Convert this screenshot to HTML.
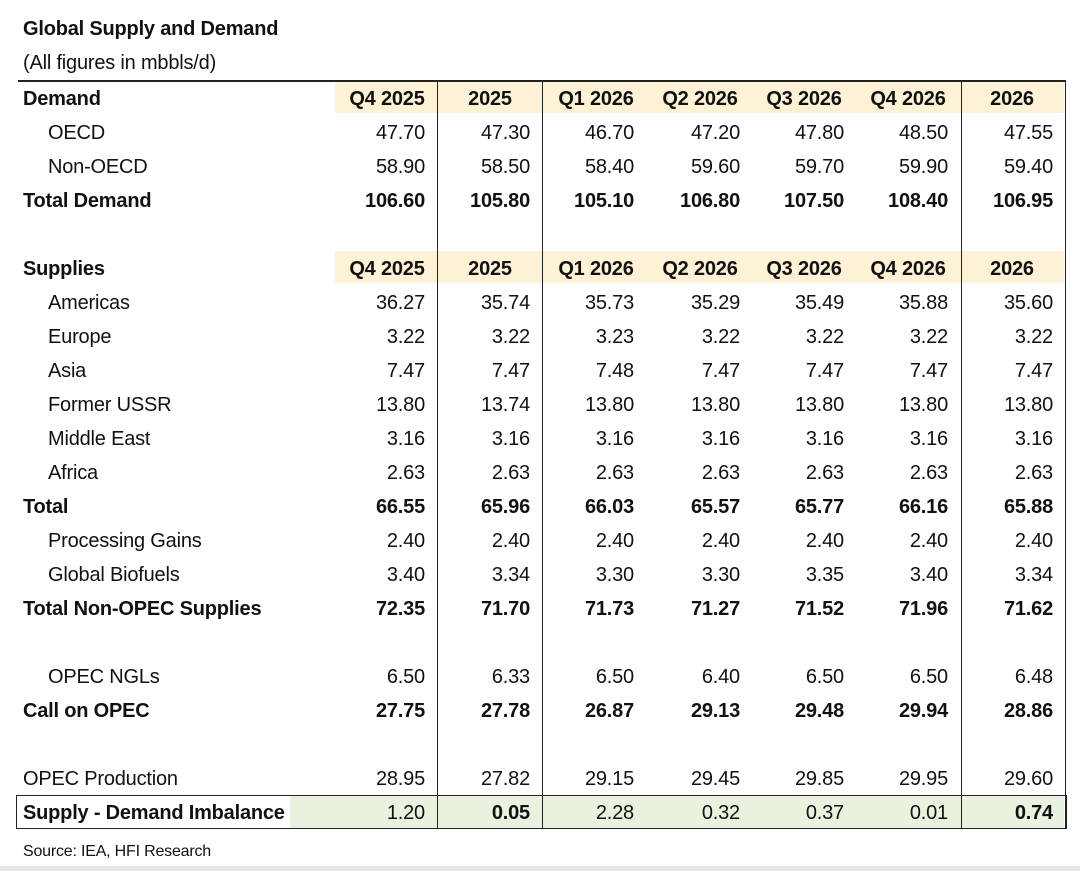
<!DOCTYPE html>
<html><head><meta charset="utf-8"><style>
body{margin:0;width:1080px;height:871px;background:#fff;position:relative;overflow:hidden;font-family:"Liberation Sans",sans-serif;color:#111}
.t{position:absolute;white-space:nowrap;font-size:20px;line-height:24px;letter-spacing:-0.2px}
.b{font-weight:bold}
.r{text-align:right}
.c{text-align:center}
.ln{position:absolute;background:#222}
.fill{position:absolute}
</style></head><body>
<div class="t b" style="left:23px;top:17px">Global Supply and Demand</div>
<div class="t" style="left:23px;top:51px">(All figures in mbbls/d)</div>
<div class="fill" style="left:335px;top:81px;width:729px;height:32px;background:#fdf2d6"></div>
<div class="fill" style="left:335px;top:251px;width:729px;height:32px;background:#fdf2d6"></div>
<div class="fill" style="left:290px;top:796px;width:774px;height:32px;background:#e8f2df"></div>
<div class="ln" style="left:18px;top:80px;width:1048px;height:2px"></div>
<div class="ln" style="left:437px;top:81px;width:1.2px;height:747px"></div>
<div class="ln" style="left:542px;top:81px;width:1.2px;height:747px"></div>
<div class="ln" style="left:961px;top:81px;width:1.2px;height:747px"></div>
<div class="ln" style="left:1065px;top:81px;width:1.2px;height:747px"></div>
<div style="position:absolute;left:16px;top:795px;width:1049px;height:32px;border:1.5px solid #222"></div>
<div class="t" style="left:23px;top:840px;font-size:16px">Source: IEA, HFI Research</div>
<div class="fill" style="left:0;top:866px;width:1080px;height:5px;background:#e6e6e6"></div>
<div id="rows"></div>
<script>
const headers=["Q4 2025","2025","Q1 2026","Q2 2026","Q3 2026","Q4 2026","2026"];
const rowLabels=["Demand","OECD","Non-OECD","Total Demand","","Supplies","Americas","Europe","Asia","Former USSR","Middle East","Africa","Total","Processing Gains","Global Biofuels","Total Non-OPEC Supplies","","OPEC NGLs","Call on OPEC","","OPEC Production","Supply - Demand Imbalance"];
const rowKinds=["h","i","i","b","x","h","i","i","i","i","i","i","b","i","i","b","x","i","b","x","n","s"];
const rowValues=[
null,
["47.70","47.30","46.70","47.20","47.80","48.50","47.55"],
["58.90","58.50","58.40","59.60","59.70","59.90","59.40"],
["106.60","105.80","105.10","106.80","107.50","108.40","106.95"],
null,null,
["36.27","35.74","35.73","35.29","35.49","35.88","35.60"],
["3.22","3.22","3.23","3.22","3.22","3.22","3.22"],
["7.47","7.47","7.48","7.47","7.47","7.47","7.47"],
["13.80","13.74","13.80","13.80","13.80","13.80","13.80"],
["3.16","3.16","3.16","3.16","3.16","3.16","3.16"],
["2.63","2.63","2.63","2.63","2.63","2.63","2.63"],
["66.55","65.96","66.03","65.57","65.77","66.16","65.88"],
["2.40","2.40","2.40","2.40","2.40","2.40","2.40"],
["3.40","3.34","3.30","3.30","3.35","3.40","3.34"],
["72.35","71.70","71.73","71.27","71.52","71.96","71.62"],
null,
["6.50","6.33","6.50","6.40","6.50","6.50","6.48"],
["27.75","27.78","26.87","29.13","29.48","29.94","28.86"],
null,
["28.95","27.82","29.15","29.45","29.85","29.95","29.60"],
["1.20","0.05","2.28","0.32","0.37","0.01","0.74"]];
const colRight=[425,530,634,740,844,948,1053];
const colCenter=[387,490,596,700,804,908,1012];
const wrap=document.getElementById('rows');
rowLabels.forEach((lab,i)=>{
  const y=87+i*34;
  const k=rowKinds[i];
  if(k==="x")return;
  const d=document.createElement('div');
  d.className='t'+((k==="h"||k==="b"||k==="s")?' b':'');
  d.style.left=(k==="i"?48:23)+'px';d.style.top=y+'px';
  d.textContent=lab;
  
  
  wrap.appendChild(d);
  if(k==="h"){
    headers.forEach((h,j)=>{
      const e=document.createElement('div');
      e.className='t b c';e.style.left=(colCenter[j]-60)+'px';e.style.width='120px';e.style.top=y+'px';
      e.textContent=h;
      
      
      wrap.appendChild(e);
    });
  } else if(rowValues[i]){
    rowValues[i].forEach((v,j)=>{
      const e=document.createElement('div');
      const bold=(k==="b")||(k==="s"&&(j===1||j===6));
      e.className='t r'+(bold?' b':'');e.style.left=(colRight[j]-120)+'px';e.style.width='120px';e.style.top=y+'px';
      e.textContent=v;
      
      
      wrap.appendChild(e);
    });
  }
});
</script>
</body></html>
